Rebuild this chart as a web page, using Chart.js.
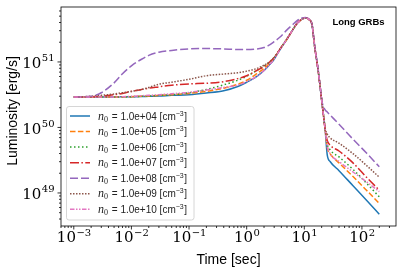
<!DOCTYPE html>
<html>
<head>
<meta charset="utf-8">
<script src="https://cdn.jsdelivr.net/npm/chart.js@4.4.1/dist/chart.umd.min.js"></script>
<style>
  html, body { margin: 0; padding: 0; background: #fff; }
</style>
</head>
<body>
<canvas id="myChart" width="403" height="273"></canvas>
<script>
// time [sec]
const time = [0.001, 0.002, 0.003, 0.005, 0.007, 0.01, 0.015, 0.02, 0.03, 0.05,
  0.1, 0.2, 0.4, 0.7, 1, 1.5, 2, 2.5, 3, 3.8,
  5, 6.3, 7.5, 9, 10.4, 12, 13.6, 15, 17.5, 20.5,
  23, 25, 28, 40, 70, 120, 200];

// luminosity [erg/s], one array per density
const lumN4 = [2.92e50, 2.92e50, 2.92e50, 2.92e50, 2.94e50, 2.95e50, 2.96e50, 2.99e50, 3.02e50, 3.09e50,
  3.16e50, 3.35e50, 3.63e50, 4.22e50, 4.90e50, 6.03e50, 7.41e50, 9.12e50, 1.10e51, 1.55e51,
  2.24e51, 3.09e51, 3.89e51, 4.47e51, 4.68e51, 4.47e51, 3.72e51, 1.82e51, 7.08e50, 2.19e50,
  9.33e49, 3.80e49, 3.02e49, 2.19e49, 1.29e49, 7.76e48, 4.73e48];
const lumN5 = [2.92e50, 2.92e50, 2.92e50, 2.92e50, 2.92e50, 2.95e50, 2.99e50, 3.02e50, 3.09e50, 3.16e50,
  3.31e50, 3.55e50, 3.98e50, 4.57e50, 5.25e50, 6.61e50, 7.94e50, 9.55e50, 1.15e51, 1.58e51,
  2.24e51, 3.09e51, 3.89e51, 4.47e51, 4.68e51, 4.47e51, 3.72e51, 1.82e51, 7.08e50, 2.19e50,
  9.33e49, 5.01e49, 3.98e49, 2.88e49, 1.78e49, 1.10e49, 6.92e48];
const lumN6 = [2.92e50, 2.92e50, 2.92e50, 2.92e50, 2.92e50, 2.95e50, 2.99e50, 3.02e50, 3.09e50, 3.16e50,
  3.39e50, 3.80e50, 4.47e50, 5.25e50, 6.03e50, 7.41e50, 8.71e50, 1.00e51, 1.17e51, 1.58e51,
  2.24e51, 3.09e51, 3.89e51, 4.47e51, 4.68e51, 4.47e51, 3.72e51, 1.82e51, 7.08e50, 2.19e50,
  9.33e49, 5.62e49, 4.57e49, 3.55e49, 2.29e49, 1.41e49, 8.71e48];
const lumN7 = [2.92e50, 2.94e50, 2.99e50, 3.16e50, 3.31e50, 3.55e50, 3.80e50, 3.98e50, 4.17e50, 4.42e50,
  4.62e50, 4.73e50, 5.01e50, 5.56e50, 6.17e50, 7.41e50, 8.51e50, 1.00e51, 1.17e51, 1.58e51,
  2.24e51, 3.09e51, 3.89e51, 4.47e51, 4.68e51, 4.47e51, 3.72e51, 1.82e51, 7.08e50, 2.19e50,
  9.33e49, 6.31e49, 5.37e49, 4.37e49, 2.88e49, 1.74e49, 1.10e49];
const lumN8 = [2.92e50, 2.99e50, 3.39e50, 4.79e50, 6.61e50, 8.71e50, 1.10e51, 1.26e51, 1.41e51, 1.50e51,
  1.58e51, 1.60e51, 1.58e51, 1.55e51, 1.55e51, 1.58e51, 1.66e51, 1.82e51, 2.04e51, 2.40e51,
  3.09e51, 3.72e51, 4.27e51, 4.68e51, 4.79e51, 4.57e51, 3.80e51, 1.91e51, 7.41e50, 2.40e50,
  1.86e50, 1.72e50, 1.55e50, 1.12e50, 6.61e49, 4.07e49, 2.51e49];
const lumN9 = [2.92e50, 2.99e50, 3.09e50, 3.24e50, 3.39e50, 3.55e50, 3.80e50, 4.07e50, 4.57e50, 4.90e50,
  5.43e50, 6.17e50, 6.53e50, 6.84e50, 7.24e50, 7.94e50, 8.91e50, 1.00e51, 1.17e51, 1.58e51,
  2.24e51, 3.09e51, 3.89e51, 4.47e51, 4.68e51, 4.47e51, 3.72e51, 1.82e51, 7.08e50, 2.19e50,
  9.77e49, 7.94e49, 6.92e49, 5.75e49, 3.98e49, 2.63e49, 1.74e49];
const lumN10 = [2.92e50, 2.92e50, 2.92e50, 2.92e50, 2.95e50, 2.99e50, 3.05e50, 3.09e50, 3.16e50, 3.27e50,
  3.43e50, 3.72e50, 4.07e50, 4.42e50, 5.01e50, 6.03e50, 7.41e50, 9.12e50, 1.10e51, 1.55e51,
  2.24e51, 3.09e51, 3.89e51, 4.47e51, 4.68e51, 4.47e51, 3.72e51, 1.82e51, 7.08e50, 2.19e50,
  9.33e49, 5.25e49, 3.98e49, 3.02e49, 2.09e49, 1.48e49, 1.05e49];

const densityLabels = ["1.0e+04", "1.0e+05", "1.0e+06", "1.0e+07", "1.0e+08", "1.0e+09", "1.0e+10"];
const xTickPowers = [-3, -2, -1, 0, 1, 2];
const yTickPowers = [49, 50, 51];

const allSeries = [lumN4, lumN5, lumN6, lumN7, lumN8, lumN9, lumN10];
const colors = ["#1f77b4", "#ff7f0e", "#2ca02c", "#d62728", "#9467bd", "#8c564b", "#e377c2"];
const dashes = [[], [5.5, 2.4], [1.5, 2.5], [9, 2.4, 1.5, 2.4], [8, 3], [1.5, 1.5], [4.5, 1.5, 1.5, 1.5, 1.5, 1.5]];

const datasets = allSeries.map((vals, i) => ({
  label: densityLabels[i],
  data: time.map((t, j) => ({ x: t, y: vals[j] })),
  borderColor: colors[i],
  borderDash: dashes[i],
  borderWidth: 1.5,
  pointRadius: 0,
  fill: false,
  cubicInterpolationMode: "monotone",
  order: 6 - i,
}));

function supText(n) {
  return String(n).replace("-", "\u2212");
}

const decor = {
  id: "decor",
  afterDatasetsDraw(chart) {
    const { ctx, chartArea: a, scales } = chart;
    const xs = scales.x, ys = scales.y;
    ctx.save();
    ctx.fillStyle = "#000";
    ctx.strokeStyle = "#000";
    ctx.lineWidth = 0.8;

    // frame
    ctx.strokeRect(a.left, a.top, a.right - a.left, a.bottom - a.top);

    // ticks
    ctx.beginPath();
    for (let d = -4; d <= 3; d++) {
      for (let k = 1; k <= 9; k++) {
        const v = k * Math.pow(10, d);
        if (v < xs.min || v > xs.max) continue;
        const px = xs.getPixelForValue(v);
        const len = k === 1 ? 3.5 : 2;
        ctx.moveTo(px, a.bottom);
        ctx.lineTo(px, a.bottom + len);
      }
    }
    for (let d = 48; d <= 52; d++) {
      for (let k = 1; k <= 9; k++) {
        const v = k * Math.pow(10, d);
        if (v < ys.min || v > ys.max) continue;
        const py = ys.getPixelForValue(v);
        const len = k === 1 ? 3.5 : 2;
        ctx.moveTo(a.left, py);
        ctx.lineTo(a.left - len, py);
      }
    }
    ctx.stroke();

    // tick labels
    const baseFont = "15px 'DejaVu Serif'";
    const expFont = "10px 'DejaVu Serif'";
    ctx.textBaseline = "alphabetic";
    ctx.textAlign = "left";
    xTickPowers.forEach((p) => {
      const px = xs.getPixelForValue(Math.pow(10, p));
      ctx.font = baseFont;
      const w1 = ctx.measureText("10").width;
      ctx.font = expFont;
      const w2 = ctx.measureText(supText(p)).width;
      const x0 = px - (w1 + w2) / 2;
      ctx.font = baseFont;
      ctx.fillText("10", x0, 242);
      ctx.font = expFont;
      ctx.fillText(supText(p), x0 + w1 + 0.5, 235.5);
    });
    yTickPowers.forEach((p) => {
      const py = ys.getPixelForValue(Math.pow(10, p));
      ctx.font = expFont;
      const w2 = ctx.measureText(supText(p)).width;
      ctx.font = baseFont;
      const w1 = ctx.measureText("10").width;
      const x0 = 54 - w1 - w2;
      ctx.fillText("10", x0, py + 6.5);
      ctx.font = expFont;
      ctx.fillText(supText(p), x0 + w1 + 0.5, py - 0.5);
    });

    // axis titles
    ctx.font = "14px 'Liberation Sans'";
    ctx.textAlign = "center";
    ctx.fillText("Time [sec]", (a.left + a.right) / 2, 264);
    ctx.save();
    ctx.translate(17, 111);
    ctx.rotate(-Math.PI / 2);
    ctx.fillText("Luminosity [erg/s]", 0, 0);
    ctx.restore();

    // annotation
    ctx.font = "bold 9.5px 'Liberation Sans'";
    ctx.fillText("Long GRBs", 358.5, 24.5);

    // legend
    const bx = 66.5, by = 106.5, bw = 127.5, bh = 113.5;
    ctx.beginPath();
    ctx.roundRect(bx, by, bw, bh, 2.5);
    ctx.fillStyle = "rgba(255,255,255,0.8)";
    ctx.fill();
    ctx.strokeStyle = "#cccccc";
    ctx.lineWidth = 0.8;
    ctx.stroke();

    ctx.textAlign = "left";
    densityLabels.forEach((lab, i) => {
      const cy = 116 + i * 15.55;
      ctx.save();
      ctx.strokeStyle = colors[i];
      ctx.lineWidth = 1.5;
      ctx.setLineDash(dashes[i]);
      ctx.beginPath();
      ctx.moveTo(70, cy);
      ctx.lineTo(90, cy);
      ctx.stroke();
      ctx.restore();

      ctx.fillStyle = "#222";
      let x = 98;
      ctx.font = "italic 12px 'Liberation Serif'";
      ctx.fillText("n", x, cy + 3.5);
      x += ctx.measureText("n").width;
      ctx.font = "8px 'Liberation Serif'";
      ctx.fillText("0", x, cy + 5.5);
      x += ctx.measureText("0").width;
      ctx.font = "10px 'Liberation Sans'";
      const mid = " = " + lab + " [cm";
      ctx.fillText(mid, x + 1, cy + 3.5);
      x += ctx.measureText(mid).width + 1;
      ctx.font = "7px 'Liberation Sans'";
      ctx.fillText("\u22123", x, cy - 0.5);
      x += ctx.measureText("\u22123").width + 0.5;
      ctx.font = "10px 'Liberation Sans'";
      ctx.fillText("]", x, cy + 3.5);
    });
    ctx.restore();
  },
};

const ctx = document.getElementById("myChart");
const myChart = new Chart(ctx, {
  type: "line",
  data: { datasets: datasets },
  options: {
    responsive: false,
    animation: false,
    devicePixelRatio: 1,
    layout: { padding: { left: 61, right: 7, top: 7, bottom: 47 } },
    plugins: { legend: { display: false }, tooltip: { enabled: false } },
    scales: {
      x: { type: "logarithmic", min: 6.1e-4, max: 390, display: false },
      y: { type: "logarithmic", min: 3.13e48, max: 6.9e51, display: false },
    },
  },
  plugins: [decor],
});
</script>
</body>
</html>
